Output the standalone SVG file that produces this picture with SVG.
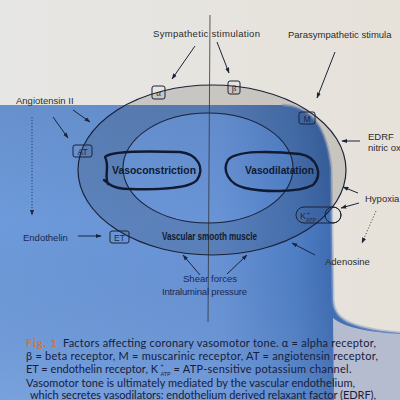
<svg xmlns="http://www.w3.org/2000/svg" width="400" height="400" viewBox="0 0 400 400">
<defs>
<style>
.lbl{font-family:"Liberation Sans",Arial,sans-serif;font-size:9.5px}
.dk{fill:#2b2b2b}
.bl{fill:#1b2850}
.rc{fill:none;stroke:#1a2238;stroke-width:1}
.rt{font-family:"Liberation Sans",Arial,sans-serif;font-size:8.5px;text-anchor:middle}
.gr{font-family:"Liberation Serif","DejaVu Serif",serif;font-size:9px;text-anchor:middle}
.ar{fill:none;stroke:#1c2438;stroke-width:1;marker-end:url(#ah)}
.dot{fill:none;stroke-width:1;stroke-dasharray:1.2 1.8;marker-end:url(#ah)}
.blob{fill:none;stroke:#111a30;stroke-width:2.4;stroke-linejoin:round;stroke-linecap:round}
.big{font-family:"Liberation Sans",Arial,sans-serif;font-weight:bold;font-size:10.8px;fill:#111a30}
.cap{font-family:Lato,"Open Sans",sans-serif;font-size:11px;fill:#16203c}
.capo{font-family:Lato,"Open Sans",sans-serif;font-size:11px;font-weight:bold;fill:#c47a3e}
.sub{font-family:Lato,"Open Sans",sans-serif;font-size:5.5px;fill:#16203c}
</style>
<marker id="ah" viewBox="0 0 10 10" refX="9" refY="5" markerWidth="6" markerHeight="6" orient="auto"><path d="M0,1.5 L10,5 L0,8.5 Z" fill="#1c2438"/></marker>
<linearGradient id="sh" x1="0" y1="0" x2="400" y2="0" gradientUnits="userSpaceOnUse">
<stop offset="0" stop-color="#6d9ada"/>
<stop offset="0.55" stop-color="#6893d6"/>
<stop offset="0.74" stop-color="#4f7fc6"/>
<stop offset="0.83" stop-color="#3f6db4"/>
</linearGradient>
<linearGradient id="sv" x1="0" y1="105" x2="0" y2="400" gradientUnits="userSpaceOnUse">
<stop offset="0" stop-color="#000" stop-opacity="0.06"/>
<stop offset="0.4" stop-color="#000" stop-opacity="0"/>
<stop offset="1" stop-color="#fff" stop-opacity="0.08"/>
</linearGradient>
<linearGradient id="pg" x1="0" y1="0" x2="400" y2="0" gradientUnits="userSpaceOnUse">
<stop offset="0" stop-color="#e6e6e4"/>
<stop offset="1" stop-color="#e6e2da"/>
</linearGradient>
</defs>

<rect x="0" y="0" width="400" height="400" fill="url(#pg)"/>

<g id="shadow">
<path d="M0,105 L282,105 C312,106 327,128 331,168 L333,300 C334,318 346,328 400,333 L400,400 L0,400 Z" fill="url(#sh)"/>
<path d="M0,105 L282,105 C312,106 327,128 331,168 L333,300 C334,318 346,328 400,333 L400,400 L0,400 Z" fill="url(#sv)"/>
<path d="M282,105 C312,106 327,128 331,168 L333,300 C334,318 346,328 400,333" fill="none" stroke="#8aa0c8" stroke-width="3" opacity="0.5"/>
<path d="M333,318 C345,328 370,332 400,334 L400,400 L334,400 Z" fill="#b6bccf"/>
</g>

<g id="annulus">
<path fill="#000" fill-opacity="0.13" fill-rule="evenodd" d="M78,170 A134,85 0 1,0 346,170 A134,85 0 1,0 78,170 Z M123,168 A85,55 0 1,0 293,168 A85,55 0 1,0 123,168 Z"/>
</g>

<line x1="210" y1="15" x2="208" y2="322" stroke="#333" stroke-width="0.8"/>

<g id="membranes" fill="none">
<ellipse cx="212" cy="170" rx="134" ry="85" stroke="#1a2238" stroke-width="1.2"/>
<ellipse cx="208" cy="168" rx="85" ry="55" stroke="#1a2238" stroke-width="1.1"/>
</g>

<g id="connectors">
<path class="ar" d="M195,46 L172,79"/>
<path class="ar" d="M217,42 L229,73"/>
<path class="ar" d="M335,52 L317,98"/>
<path class="ar" d="M73,110 L90,122"/>
<path class="ar" d="M53,117 L68,138"/>
<path class="dot" stroke="#2a3a70" d="M32,117 L32,215"/>
<path class="ar" d="M78,236 L101,236"/>
<path class="ar" d="M360,141 L342,141"/>
<path class="ar" d="M358,193 L343,187"/>
<path class="ar" d="M359,203 L341,208"/>
<path class="dot" stroke="#555" d="M376,211 L362,243"/>
<path class="ar" d="M315,255 L292,243"/>
<path class="ar" d="M200,275 L183,255"/>
<path class="ar" d="M227,274 L247,255"/>
</g>

<g id="receptor-alpha"><rect class="rc" x="152" y="86" width="13" height="13" rx="2"/><text class="gr dk" x="158.5" y="95.5">α</text></g>
<g id="receptor-beta"><rect class="rc" x="228" y="81" width="12" height="13" rx="2"/><text class="gr dk" x="234" y="91">β</text></g>
<g id="receptor-M"><rect class="rc" x="299" y="112" width="16" height="12" rx="2"/><text class="rt bl" x="307" y="121.5">M</text></g>
<g id="receptor-AT"><rect class="rc" x="73" y="145" width="19" height="12" rx="2"/><text class="rt bl" x="82.5" y="154.5">AT</text></g>
<g id="receptor-ET"><rect class="rc" x="110" y="231" width="19" height="12" rx="2"/><text class="rt bl" x="119.5" y="240.5">ET</text></g>
<g id="receptor-KATP">
<rect class="rc" x="296" y="207" width="45" height="16" rx="8"/>
<circle class="rc" cx="333" cy="215" r="8"/>
<text class="bl" font-family="Liberation Sans,Arial,sans-serif" font-size="9" x="300" y="219">K</text>
<text class="bl" font-family="Liberation Sans,Arial,sans-serif" font-size="6" x="306.5" y="215">+</text>
<text class="bl" font-family="Liberation Sans,Arial,sans-serif" font-size="5.5" x="306" y="222">ATP</text>
</g>

<g id="vasoconstriction">
<path class="blob" d="M108,184 C104,176 110,166 105,157 C110,151 150,151 180,152 C198,154 205,168 197,180 C190,188 160,190 130,189 C120,189 113,187 109,184 L104,180"/>
<text class="big" x="112" y="174" textLength="84" lengthAdjust="spacingAndGlyphs">Vasoconstriction</text>
</g>
<g id="vasodilatation">
<path class="blob" d="M228,160 C236,150 272,151 300,154 C318,157 323,175 313,185 C298,193 262,192 245,188 C228,184 222,170 228,160 Z"/>
<text class="big" x="245" y="174" textLength="69" lengthAdjust="spacingAndGlyphs">Vasodilatation</text>
</g>
<g id="vsm">
<text class="big" x="162" y="240" font-size="12.5" textLength="95" lengthAdjust="spacingAndGlyphs">Vascular smooth muscle</text>
</g>

<g id="labels">
<text class="lbl dk" x="153" y="37" font-size="10" textLength="107">Sympathetic stimulation</text>
<text class="lbl dk" x="288" y="38" font-size="10">Parasympathetic stimula</text>
<text class="lbl dk" x="16" y="104">Angiotensin II</text>
<text class="lbl bl" x="23" y="241">Endothelin</text>
<text class="lbl dk" x="368" y="140">EDRF</text>
<text class="lbl dk" x="368" y="151" font-size="8.5">nitric ox</text>
<text class="lbl dk" x="365" y="202">Hypoxia</text>
<text class="lbl dk" x="325" y="265">Adenosine</text>
<text class="lbl bl" x="183" y="282" textLength="54">Shear forces</text>
<text class="lbl bl" x="162" y="295" textLength="85">Intraluminal pressure</text>
</g>

<g id="caption">
<text class="capo" x="26" y="347" textLength="31">Fig. 1</text>
<text class="cap" x="63" y="347" textLength="313">Factors affecting coronary vasomotor tone. α = alpha receptor,</text>
<text class="cap" x="26" y="360" textLength="352">β = beta receptor, M = muscarinic receptor, AT = angiotensin receptor,</text>
<text class="cap" x="26" y="373" textLength="132">ET = endothelin receptor, K</text>
<text class="sub" x="160.5" y="367.5">+</text>
<text class="sub" x="160.5" y="375.5">ATP</text>
<text class="cap" x="173.5" y="373" textLength="178">= ATP-sensitive potassium channel.</text>
<text class="cap" x="26" y="387" textLength="329">Vasomotor tone is ultimately mediated by the vascular endothelium,</text>
<text class="cap" x="30" y="399" textLength="346">which secretes vasodilators: endothelium derived relaxant factor (EDRF),</text>
</g>
</svg>
